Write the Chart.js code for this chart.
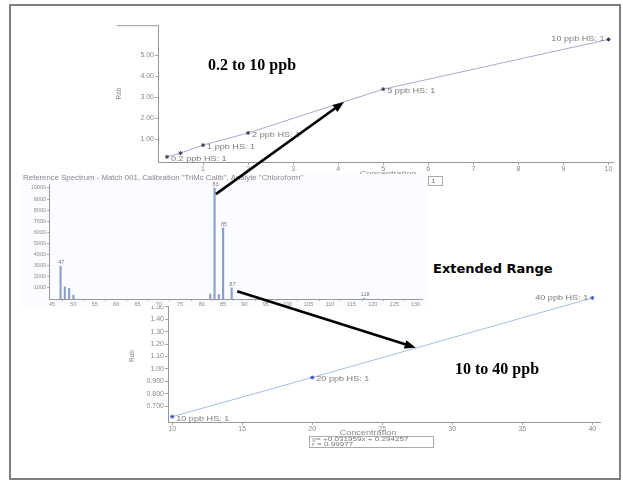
<!DOCTYPE html>
<html>
<head>
<meta charset="utf-8">
<script src="https://cdn.jsdelivr.net/npm/chart.js@4/dist/chart.umd.min.js"></script>
<style>
body { margin: 0; background: #fff; width: 623px; height: 485px; overflow: hidden; position: relative; }
.frame { position: absolute; left: 9px; top: 4px; width: 608px; height: 472px; border: 2px solid #808080; }
canvas { position: absolute; }
.note { position: absolute; white-space: nowrap; z-index: 5; color: #000; line-height: 18px; }
.serif { font: bold 16px "Liberation Serif", "Times New Roman", serif; }
.sans { font: bold 13px "DejaVu Sans", Verdana, sans-serif; }
</style>
</head>
<body>
<div class="frame"></div>
<canvas id="lowChart" width="505" height="168" style="left:115px;top:20px;z-index:1"></canvas>
<canvas id="highChart" width="480" height="170" style="left:128px;top:280px;z-index:1"></canvas>
<canvas id="spectrumChart" width="408" height="132" style="left:20px;top:174px;z-index:2"></canvas>
<canvas id="arrows" width="623" height="485" style="left:0;top:0;z-index:6"></canvas>
<div class="note serif" style="left:208px;top:56px">0.2 to 10 ppb</div>
<div class="note sans" style="left:433px;top:261px">Extended Range</div>
<div class="note serif" style="left:455px;top:360px">10 to 40 ppb</div>
<script>
// low range calibration (0.2 - 10 ppb)
var lowConc = [0.2, 0.5, 1, 2, 5, 10];
var lowRatio = [0.15, 0.33, 0.71, 1.29, 3.38, 5.75];
var lowNames = ['0.2 ppb HS: 1', '', '1 ppb HS: 1', '2 ppb HS: 1', '5 ppb HS: 1', '10 ppb HS: 1'];
var lowTicksY = [1, 2, 3, 4, 5];
var lowTicksX = [1, 2, 3, 4, 5, 6, 7, 8, 9, 10];

// extended range calibration (10 - 40 ppb)
var highConc = [10, 20, 40];
var highRatio = [0.614, 0.93, 1.572];
var highNames = ['10 ppb HS: 1', '20 ppb HS: 1', '40 ppb HS: 1'];
var highTicksY = [0.7, 0.8, 0.9, 1.0, 1.1, 1.2, 1.3, 1.4, 1.5, 1.6];
var highTicksX = [10, 15, 20, 25, 30, 35, 40];
var fitText = ['y= +0.031959x + 0.294257', 'r = 0.99977'];

// reference spectrum, chloroform
var spectrumMass = [47, 48, 49, 50, 82, 83, 84, 85, 87, 118];
var spectrumAbund = [2950, 1100, 950, 350, 450, 10000, 400, 6400, 1000, 60];
var spectrumPeakNames = ['47', '', '', '', '', '83', '', '85', '87', '118'];
var spectrumTicksY = [1000, 2000, 3000, 4000, 5000, 6000, 7000, 8000, 9000, 10000];
var spectrumTicksX = [45, 50, 55, 60, 65, 70, 75, 80, 85, 90, 95, 100, 105, 110, 115, 120, 125, 130];
var spectrumTitle = 'Reference Spectrum - Match 001, Calibration "TriMc Calib", Analyte "Chloroform"';

// arrows: from spectrum (mass, abundance) to a point on a calibration line
var arrowOne = { from: [83.3, 9440], to: [4.13, 2.77] };
var arrowTwo = { from: [88.3, 700], to: [27.4, 1.17] };

Chart.defaults.font.family = '"Liberation Sans", Arial, sans-serif';
Chart.defaults.color = '#8a8a8a';

var fixedTicks = function (list) {
    return function (scale) {
        scale.ticks = list.map(function (v) { return { value: v }; });
    };
};

// text squeezed like the pasted screenshots: wider than tall
var wideText = function (ctx, text, x, y, align, stretch) {
    ctx.save();
    ctx.translate(x, y);
    ctx.scale(stretch, 1);
    ctx.textAlign = align;
    ctx.fillText(text, 0, 0);
    ctx.restore();
};

var pointNames = {
    id: 'pointNames',
    afterDatasetsDraw: function (chart, args, opts) {
        var ctx = chart.ctx, area = chart.chartArea;
        var meta = chart.getDatasetMeta(0);
        var stretch = 1.3;
        ctx.save();
        ctx.font = '7px "Liberation Sans", Arial, sans-serif';
        ctx.fillStyle = '#7a7a7a';
        ctx.textBaseline = 'middle';
        meta.data.forEach(function (pt, i) {
            var name = opts.names[i];
            if (!name) return;
            var w = ctx.measureText(name).width * stretch;
            if (pt.x + 4 + w > area.right) {
                wideText(ctx, name, pt.x - 4, pt.y, 'right', stretch);
            } else {
                wideText(ctx, name, pt.x + 4, pt.y + 2, 'left', stretch);
            }
        });
        // x title and the little box under it
        ctx.fillStyle = '#8a8a8a';
        wideText(ctx, 'Concentration', opts.titleX, opts.titleY, 'center', 1.3);
        if (opts.box) {
            var b = opts.box;
            ctx.strokeStyle = '#aaa';
            ctx.lineWidth = 1;
            ctx.strokeRect(b.x + 0.5, b.y + 0.5, b.w, b.h);
            ctx.font = '6px "Liberation Sans", Arial, sans-serif';
            ctx.fillStyle = '#777';
            b.lines.forEach(function (line, i) {
                wideText(ctx, line, b.x + 3, b.y + b.h / 2 + 0.5 + (i - (b.lines.length - 1) / 2) * 5, 'left', 1.35);
            });
        }
        if (opts.edge) {
            ctx.strokeStyle = '#999';
            ctx.beginPath();
            ctx.moveTo(2, area.top + 0.5);
            ctx.lineTo(area.left, area.top + 0.5);
            ctx.stroke();
        }
        ctx.restore();
    }
};

var lowChart = new Chart('lowChart', {
    type: 'scatter',
    data: {
        datasets: [{
            data: lowConc.map(function (c, i) { return { x: c, y: lowRatio[i] }; }),
            showLine: true,
            borderColor: '#a8a8d8',
            borderWidth: 1,
            pointStyle: 'star',
            pointRadius: 2,
            pointBorderColor: '#3a3a55',
            pointBorderWidth: 1,
            clip: false
        }]
    },
    options: {
        responsive: false,
        animation: false,
        devicePixelRatio: 1,
        layout: { padding: { top: 5, right: 7, left: 0, bottom: 0 } },
        plugins: {
            legend: { display: false },
            tooltip: { enabled: false },
            pointNames: { names: lowNames, titleX: 273, titleY: 154, box: { x: 313, y: 156, w: 14, h: 9, lines: ['1'] }, edge: true }
        },
        scales: {
            x: {
                type: 'linear', min: 0, max: 10.1,
                afterBuildTicks: fixedTicks(lowTicksX),
                afterFit: function (s) { s.height = 26; },
                border: { color: '#999' },
                grid: { drawOnChartArea: false, tickLength: 3, color: '#aaa' },
                ticks: { font: { size: 7 }, padding: 0, maxRotation: 0 }
            },
            y: {
                type: 'linear', min: -0.095, max: 6.43,
                afterBuildTicks: fixedTicks(lowTicksY),
                afterFit: function (s) { s.width = 43; },
                border: { color: '#999' },
                grid: { drawOnChartArea: false, tickLength: 3, color: '#aaa' },
                title: { display: true, text: 'Rab', font: { size: 6.5 }, padding: 0 },
                ticks: { font: { size: 7 }, padding: 1,
                    callback: function (v) { return v.toFixed(2); } }
            }
        }
    },
    plugins: [pointNames]
});

var highChart = new Chart('highChart', {
    type: 'scatter',
    data: {
        datasets: [{
            data: highConc.map(function (c, i) { return { x: c, y: highRatio[i] }; }),
            showLine: true,
            borderColor: '#a6bcec',
            borderWidth: 1,
            pointStyle: 'star',
            pointRadius: 2,
            pointBorderColor: '#3050c0',
            pointBorderWidth: 1,
            clip: false
        }]
    },
    options: {
        responsive: false,
        animation: false,
        devicePixelRatio: 1,
        layout: { padding: { top: 10, right: 8, left: 0, bottom: 0 } },
        plugins: {
            legend: { display: false },
            tooltip: { enabled: false },
            pointNames: { names: highNames, titleX: 240, titleY: 153, box: { x: 181, y: 156, w: 124, h: 11, lines: fitText } }
        },
        scales: {
            x: {
                type: 'linear', min: 9.7, max: 40.55,
                afterBuildTicks: fixedTicks(highTicksX),
                afterFit: function (s) { s.height = 28; },
                border: { color: '#999' },
                grid: { drawOnChartArea: false, tickLength: 3, color: '#aaa' },
                ticks: { font: { size: 7 }, padding: 0, maxRotation: 0 }
            },
            y: {
                type: 'linear', min: 0.571, max: 1.636,
                afterBuildTicks: fixedTicks(highTicksY),
                afterFit: function (s) { s.width = 40; },
                border: { color: '#999' },
                grid: { drawOnChartArea: false, tickLength: 3, color: '#aaa' },
                title: { display: true, text: 'Rab', font: { size: 6.5 }, padding: 0 },
                ticks: { font: { size: 7 }, padding: 1,
                    callback: function (v) { return v < 0.95 ? v.toFixed(3) : v.toFixed(2); } }
            }
        }
    },
    plugins: [pointNames]
});

var spectrumExtras = {
    id: 'spectrumExtras',
    beforeDraw: function (chart) {
        var ctx = chart.ctx;
        ctx.save();
        ctx.fillStyle = '#fafcff';
        ctx.fillRect(0, 0, chart.width, chart.height);
        ctx.font = '6.5px "Liberation Sans", Arial, sans-serif';
        ctx.fillStyle = '#8a8a8a';
        ctx.textBaseline = 'middle';
        wideText(ctx, spectrumTitle, 3, 4.5, 'left', 1.2);
        ctx.restore();
    },
    afterDatasetsDraw: function (chart) {
        var ctx = chart.ctx;
        var meta = chart.getDatasetMeta(0);
        ctx.save();
        ctx.font = '5.5px "Liberation Sans", Arial, sans-serif';
        ctx.fillStyle = '#7a7a7a';
        ctx.textAlign = 'center';
        ctx.textBaseline = 'bottom';
        meta.data.forEach(function (bar, i) {
            if (spectrumPeakNames[i]) ctx.fillText(spectrumPeakNames[i], bar.x + 1, bar.y - 1);
        });
        ctx.restore();
    }
};

var spectrumChart = new Chart('spectrumChart', {
    type: 'bar',
    data: {
        datasets: [{
            data: spectrumMass.map(function (m, i) { return { x: m, y: spectrumAbund[i] }; }),
            backgroundColor: '#8d9fcc',
            barThickness: 1.5
        }]
    },
    options: {
        responsive: false,
        animation: false,
        devicePixelRatio: 1,
        layout: { padding: { top: 10, right: 6, left: 0, bottom: 0 } },
        plugins: { legend: { display: false }, tooltip: { enabled: false } },
        scales: {
            x: {
                type: 'linear', min: 44.3, max: 131.5, offset: false,
                afterBuildTicks: fixedTicks(spectrumTicksX),
                afterFit: function (s) { s.height = 7; },
                border: { color: '#999' },
                grid: { drawOnChartArea: false, tickLength: 2, color: '#aaa' },
                ticks: { font: { size: 5.5 }, padding: 0, maxRotation: 0 }
            },
            y: {
                type: 'linear', min: 0, max: 10350,
                afterBuildTicks: fixedTicks(spectrumTicksY),
                afterFit: function (s) { s.width = 29; },
                border: { color: '#999' },
                grid: { drawOnChartArea: false, tickLength: 2, color: '#aaa' },
                ticks: { font: { size: 5.5 }, padding: 1,
                    callback: function (v) { return String(v); } }
            }
        }
    },
    plugins: [spectrumExtras]
});

var pagePoint = function (chart, xv, yv) {
    return {
        x: chart.canvas.offsetLeft + chart.scales.x.getPixelForValue(xv),
        y: chart.canvas.offsetTop + chart.scales.y.getPixelForValue(yv)
    };
};

var drawArrow = function (ctx, a, b) {
    var ang = Math.atan2(b.y - a.y, b.x - a.x), head = 12;
    ctx.beginPath();
    ctx.moveTo(a.x, a.y);
    ctx.lineTo(b.x - Math.cos(ang) * head * 0.8, b.y - Math.sin(ang) * head * 0.8);
    ctx.stroke();
    ctx.beginPath();
    ctx.moveTo(b.x, b.y);
    ctx.lineTo(b.x - head * Math.cos(ang - 0.36), b.y - head * Math.sin(ang - 0.36));
    ctx.lineTo(b.x - head * Math.cos(ang + 0.36), b.y - head * Math.sin(ang + 0.36));
    ctx.closePath();
    ctx.fill();
};

var actx = document.getElementById('arrows').getContext('2d');
actx.strokeStyle = '#000';
actx.fillStyle = '#000';
actx.lineWidth = 2.6;
drawArrow(actx, pagePoint(spectrumChart, arrowOne.from[0], arrowOne.from[1]), pagePoint(lowChart, arrowOne.to[0], arrowOne.to[1]));
drawArrow(actx, pagePoint(spectrumChart, arrowTwo.from[0], arrowTwo.from[1]), pagePoint(highChart, arrowTwo.to[0], arrowTwo.to[1]));
</script>
</body>
</html>
